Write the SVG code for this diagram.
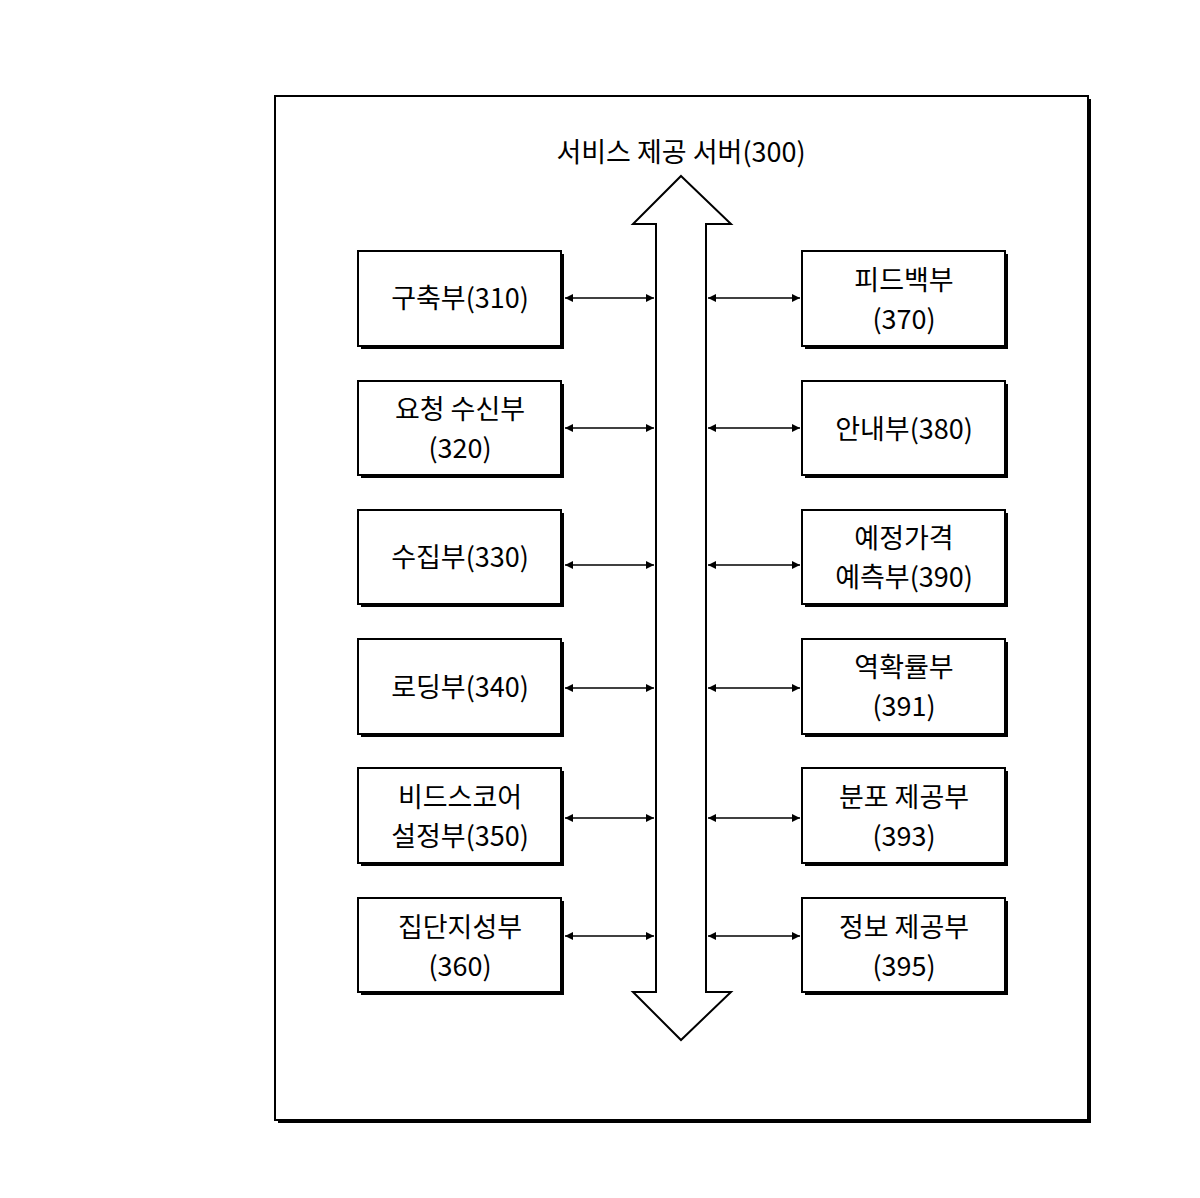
<svg xmlns="http://www.w3.org/2000/svg" width="1200" height="1198" viewBox="0 0 1200 1198">
<defs>
<marker id="ah" viewBox="0 0 10 10" refX="10" refY="5" markerWidth="10" markerHeight="8" markerUnits="userSpaceOnUse" orient="auto-start-reverse"><path d="M0,0 L10,5 L0,10 z" fill="#000"/></marker>
</defs>
<style>
.box{fill:#fff;stroke:#000;stroke-width:2}
.sh{fill:#000}
text{font-family:"Noto Sans CJK KR","Liberation Sans",sans-serif;font-size:27px;text-anchor:middle;fill:#000}
.c{stroke:#000;stroke-width:1.3;fill:none;marker-start:url(#ah);marker-end:url(#ah)}
</style>
<rect width="1200" height="1198" fill="#fff"/>
<g id="frame">
<rect x="278" y="99" width="813" height="1024" class="sh"/>
<rect x="275" y="96" width="813" height="1024" class="box"/>
<text x="681" y="162">서비스 제공 서버(300)</text>
</g>
<g id="bus">
<path d="M681,176 L731,224 L706,224 L706,992 L731,992 L681,1040 L633,992 L656,992 L656,224 L633,224 Z" fill="#fff" stroke="#000" stroke-width="2"/>
</g>
<g id="n310"><rect x="361" y="254" width="203" height="95" class="sh"/><rect x="358" y="251" width="203" height="95" class="box"/><text x="460" y="308">구축부(310)</text></g>
<g id="n320"><rect x="361" y="384" width="203" height="94" class="sh"/><rect x="358" y="381" width="203" height="94" class="box"/><text x="460" y="419">요청 수신부</text><text x="460" y="458">(320)</text></g>
<g id="n330"><rect x="361" y="513" width="203" height="94" class="sh"/><rect x="358" y="510" width="203" height="94" class="box"/><text x="460" y="567">수집부(330)</text></g>
<g id="n340"><rect x="361" y="642" width="203" height="95" class="sh"/><rect x="358" y="639" width="203" height="95" class="box"/><text x="460" y="697">로딩부(340)</text></g>
<g id="n350"><rect x="361" y="771" width="203" height="95" class="sh"/><rect x="358" y="768" width="203" height="95" class="box"/><text x="460" y="807">비드스코어</text><text x="460" y="846">설정부(350)</text></g>
<g id="n360"><rect x="361" y="901" width="203" height="94" class="sh"/><rect x="358" y="898" width="203" height="94" class="box"/><text x="460" y="937">집단지성부</text><text x="460" y="976">(360)</text></g>
<g id="n370"><rect x="805" y="254" width="203" height="95" class="sh"/><rect x="802" y="251" width="203" height="95" class="box"/><text x="904" y="290">피드백부</text><text x="904" y="329">(370)</text></g>
<g id="n380"><rect x="805" y="384" width="203" height="94" class="sh"/><rect x="802" y="381" width="203" height="94" class="box"/><text x="904" y="439">안내부(380)</text></g>
<g id="n390"><rect x="805" y="513" width="203" height="94" class="sh"/><rect x="802" y="510" width="203" height="94" class="box"/><text x="904" y="548">예정가격</text><text x="904" y="587">예측부(390)</text></g>
<g id="n391"><rect x="805" y="642" width="203" height="95" class="sh"/><rect x="802" y="639" width="203" height="95" class="box"/><text x="904" y="677">역확률부</text><text x="904" y="716">(391)</text></g>
<g id="n393"><rect x="805" y="771" width="203" height="95" class="sh"/><rect x="802" y="768" width="203" height="95" class="box"/><text x="904" y="807">분포 제공부</text><text x="904" y="846">(393)</text></g>
<g id="n395"><rect x="805" y="901" width="203" height="94" class="sh"/><rect x="802" y="898" width="203" height="94" class="box"/><text x="904" y="937">정보 제공부</text><text x="904" y="976">(395)</text></g>
<g id="connectors">
<line x1="565" y1="298" x2="654" y2="298" class="c"/><line x1="708" y1="298" x2="800" y2="298" class="c"/>
<line x1="565" y1="428" x2="654" y2="428" class="c"/><line x1="708" y1="428" x2="800" y2="428" class="c"/>
<line x1="565" y1="565" x2="654" y2="565" class="c"/><line x1="708" y1="565" x2="800" y2="565" class="c"/>
<line x1="565" y1="688" x2="654" y2="688" class="c"/><line x1="708" y1="688" x2="800" y2="688" class="c"/>
<line x1="565" y1="818" x2="654" y2="818" class="c"/><line x1="708" y1="818" x2="800" y2="818" class="c"/>
<line x1="565" y1="936" x2="654" y2="936" class="c"/><line x1="708" y1="936" x2="800" y2="936" class="c"/>
</g>
</svg>
